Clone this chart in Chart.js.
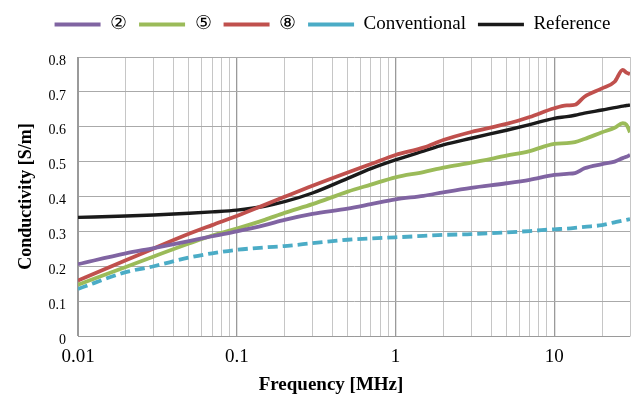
<!DOCTYPE html>
<html>
<head>
<meta charset="utf-8">
<title>Conductivity vs frequency</title>
<script src="https://cdn.jsdelivr.net/npm/chart.js@4.4.1/dist/chart.umd.min.js"></script>
<style>
    html, body { margin: 0; padding: 0; background: #fff; }
    canvas { display: block; }
</style>
</head>
<body>
<canvas id="condChart" width="640" height="399"></canvas>
<script>
// measurement frequencies [MHz], shared by every curve
const freqMHz = [0.01, 0.02, 0.03, 0.05, 0.07, 0.1, 0.15, 0.2, 0.3, 0.5, 0.7, 1, 1.5, 2, 3, 5, 7, 10, 12, 13.5, 15.5, 20, 24, 27, 28.5, 30];

// conductivity [S/m]
const cond2    = [0.206, 0.237, 0.252, 0.272, 0.286, 0.300, 0.318, 0.333, 0.350, 0.365, 0.378, 0.392, 0.402, 0.412, 0.425, 0.438, 0.448, 0.462, 0.465, 0.467, 0.481, 0.493, 0.500, 0.510, 0.514, 0.519];
const cond5    = [0.147, 0.198, 0.228, 0.265, 0.288, 0.308, 0.333, 0.353, 0.378, 0.414, 0.434, 0.455, 0.470, 0.483, 0.497, 0.517, 0.530, 0.551, 0.553, 0.556, 0.565, 0.584, 0.597, 0.610, 0.606, 0.584];
const cond8    = [0.159, 0.217, 0.251, 0.293, 0.318, 0.344, 0.376, 0.399, 0.431, 0.469, 0.493, 0.519, 0.540, 0.562, 0.585, 0.608, 0.628, 0.653, 0.661, 0.663, 0.686, 0.710, 0.729, 0.763, 0.755, 0.751];
const condConv = [0.135, 0.183, 0.200, 0.225, 0.237, 0.247, 0.254, 0.258, 0.266, 0.276, 0.280, 0.283, 0.287, 0.290, 0.292, 0.297, 0.301, 0.306, 0.308, 0.310, 0.313, 0.318, 0.326, 0.331, 0.333, 0.335];
const condRef  = [0.340, 0.344, 0.347, 0.352, 0.356, 0.361, 0.372, 0.385, 0.410, 0.452, 0.480, 0.505, 0.530, 0.548, 0.567, 0.590, 0.606, 0.624, 0.629, 0.633, 0.639, 0.648, 0.655, 0.659, 0.661, 0.662];

const seriesNames = ['②', '⑤', '⑧', 'Conventional', 'Reference'];

// log axis gridlines: 1..9 per decade, labels on decades only
const xTickValues = [
    0.01, 0.02, 0.03, 0.04, 0.05, 0.06, 0.07, 0.08, 0.09,
    0.1, 0.2, 0.3, 0.4, 0.5, 0.6, 0.7, 0.8, 0.9,
    1, 2, 3, 4, 5, 6, 7, 8, 9,
    10, 20, 30
];
const decades = [0.01, 0.1, 1, 10];

const serif = '"Liberation Serif", "Times New Roman", serif';

const toPoints = vals => freqMHz.map((f, i) => ({ x: f, y: vals[i] }));

// push the legend row a bit right and leave a gap below it
const legendSpacing = {
    id: 'legendSpacing',
    beforeInit(chart) {
        const fit = chart.legend.fit;
        chart.legend.fit = function () {
            fit.call(this);
            this.height += 13;
        };
    },
    afterLayout(chart) {
        chart.legend.left += 17;
        chart.legend.right += 17;
    }
};

// x axis title
const freqTitle = {
    id: 'freqTitle',
    afterDraw(chart) {
        const ctx = chart.ctx;
        const area = chart.chartArea;
        ctx.save();
        ctx.font = 'bold 19px ' + serif;
        ctx.fillStyle = '#000';
        ctx.textAlign = 'center';
        ctx.textBaseline = 'middle';
        ctx.fillText('Frequency [MHz]', (area.left + area.right) / 2 - 23, 385);
        ctx.restore();
    }
};

const lineStyle = (color, width) => ({
    borderColor: color,
    backgroundColor: color,
    borderWidth: width,
    pointRadius: 0,
    fill: false,
    cubicInterpolationMode: 'monotone'
});

const ctxCond = document.getElementById('condChart').getContext('2d');
new Chart(ctxCond, {
    type: 'line',
    data: {
        datasets: [
            Object.assign({ label: seriesNames[0], data: toPoints(cond2) }, lineStyle('#8064A2', 3.8)),
            Object.assign({ label: seriesNames[1], data: toPoints(cond5) }, lineStyle('#9BBB59', 3.8)),
            Object.assign({ label: seriesNames[2], data: toPoints(cond8) }, lineStyle('#C0504D', 3.8)),
            Object.assign({ label: seriesNames[3], data: toPoints(condConv), borderDash: [10, 5] }, lineStyle('#4BACC6', 3.8)),
            Object.assign({ label: seriesNames[4], data: toPoints(condRef) }, lineStyle('#1a1a1a', 3.4))
        ]
    },
    options: {
        responsive: false,
        animation: false,
        devicePixelRatio: 1,
        layout: {
            padding: { top: 3, right: 9, bottom: 0, left: 0 }
        },
        plugins: {
            legend: {
                position: 'top',
                labels: {
                    usePointStyle: true,
                    pointStyle: 'line',
                    pointStyleWidth: 46,
                    padding: 12,
                    color: '#000',
                    font: { family: serif, size: 19 }
                }
            },
            tooltip: { enabled: false }
        },
        scales: {
            x: {
                type: 'logarithmic',
                min: 0.01,
                max: 30,
                afterBuildTicks: scale => {
                    scale.ticks = xTickValues.map(v => ({ value: v }));
                },
                afterFit: scale => { scale.height = 63; },
                ticks: {
                    autoSkip: false,
                    maxRotation: 0,
                    padding: 10,
                    color: '#000',
                    font: { family: serif, size: 19 },
                    callback: value => decades.includes(value) ? String(value) : ''
                },
                grid: {
                    drawTicks: false,
                    color: ctx => (ctx.tick && decades.includes(ctx.tick.value)) ? '#9a9a9a' : '#c6c6c6',
                    lineWidth: ctx => (ctx.tick && decades.includes(ctx.tick.value)) ? 1.3 : 1
                },
                border: { color: '#9a9a9a', width: 1 }
            },
            y: {
                min: 0,
                max: 0.8,
                afterFit: scale => { scale.width = 78; },
                ticks: {
                    stepSize: 0.1,
                    padding: 12,
                    labelOffset: 4,
                    color: '#000',
                    font: { family: serif, size: 14 },
                    callback: value => value === 0 ? '0' : value.toFixed(1)
                },
                grid: {
                    drawTicks: false,
                    color: '#aaaaaa',
                    lineWidth: 1
                },
                border: { color: '#9a9a9a', width: 1 },
                title: {
                    display: true,
                    text: 'Conductivity [S/m]',
                    color: '#000',
                    font: { family: serif, size: 18, weight: 'bold' },
                    padding: { top: 16, bottom: 0 }
                }
            }
        }
    },
    plugins: [legendSpacing, freqTitle]
});
</script>
</body>
</html>
